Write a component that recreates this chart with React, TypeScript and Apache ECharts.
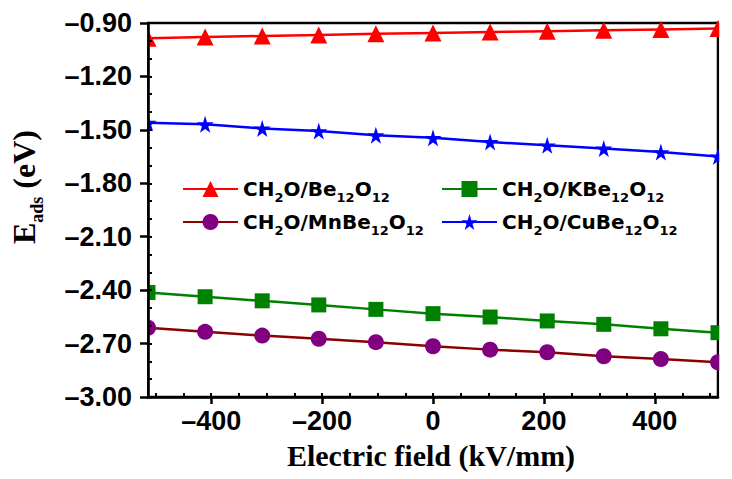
import React, { useEffect, useRef } from "react";
import * as echarts from "echarts";

const fieldX = [-514, -411, -308, -206, -103, 0, 103, 206, 308, 411, 514];
const be12o12 = [-0.985, -0.979, -0.973, -0.967, -0.961, -0.956, -0.951, -0.946, -0.941, -0.936, -0.931];
const cuBe12o12 = [-1.46, -1.469, -1.492, -1.507, -1.53, -1.545, -1.568, -1.587, -1.605, -1.625, -1.649];
const kBe12o12 = [-2.413, -2.437, -2.46, -2.483, -2.508, -2.532, -2.551, -2.573, -2.592, -2.617, -2.639];
const mnBe12o12 = [-2.611, -2.634, -2.655, -2.673, -2.692, -2.715, -2.734, -2.749, -2.771, -2.787, -2.805];

const xMajorTicks = [-400, -200, 0, 200, 400];
const xMinorTicks = [-500, -450, -400, -350, -300, -250, -200, -150, -100, -50, 0, 50, 100, 150, 200, 250, 300, 350, 400, 450, 500];

const seriesNames = ["CH2O/Be12O12", "CH2O/KBe12O12", "CH2O/MnBe12O12", "CH2O/CuBe12O12"];
const legendRich: Record<string, string> = {
  "CH2O/Be12O12": "{a|CH}{s|2}{a|O/Be}{s|12}{a|O}{s|12}",
  "CH2O/KBe12O12": "{a|CH}{s|2}{a|O/KBe}{s|12}{a|O}{s|12}",
  "CH2O/MnBe12O12": "{a|CH}{s|2}{a|O/MnBe}{s|12}{a|O}{s|12}",
  "CH2O/CuBe12O12": "{a|CH}{s|2}{a|O/CuBe}{s|12}{a|O}{s|12}",
};

const STAR = "path://M50,0 L61,35 L98,35 L68,57 L79,91 L50,70 L21,91 L32,57 L2,35 L39,35 Z";

const zip = (ys: number[]) => fieldX.map((x, i) => [x, ys[i]]);

const fmtMinus = (v: number, d: number) => {
  const r = Number(v.toFixed(d));
  if (r === 0) return d ? (0).toFixed(d) : "0";
  return (r < 0 ? "\u2013" : "") + Math.abs(r).toFixed(d);
};

export default function App() {
  const ref = useRef<HTMLDivElement>(null);
  useEffect(() => {
    document.body.style.margin = "0";
    const chart = echarts.init(ref.current!, undefined, { renderer: "svg" });
    const labelFont = { fontFamily: "Liberation Sans", fontWeight: "bold" as const, fontSize: 27, color: "#000" };
    const legendText = {
      rich: {
        a: { fontFamily: "DejaVu Sans", fontWeight: "bold", fontSize: 20, lineHeight: 22, color: "#000" },
        s: { fontFamily: "DejaVu Sans", fontWeight: "bold", fontSize: 13, lineHeight: 30, verticalAlign: "bottom", color: "#000" },
      },
    };
    const mkLegend = (name: string, left: number, top: number) => ({
      data: [name],
      left,
      top,
      orient: "horizontal",
      itemWidth: 55,
      itemHeight: 20,
      itemGap: 0,
      padding: 0,
      formatter: (n: string) => legendRich[n],
      textStyle: legendText,
    });
    const lineSeries = (name: string, ys: number[], symbol: string, size: number, itemColor: string, lineColor: string) => ({
      name,
      type: "line",
      data: zip(ys),
      symbol,
      symbolSize: size,
      showSymbol: true,
      clip: false,
      itemStyle: { color: itemColor },
      lineStyle: { color: lineColor, width: 2.5 },
      z: 2,
    });
    chart.setOption({
      animation: false,
      backgroundColor: "#fff",
      grid: {
        left: 148,
        right: 14,
        top: 23,
        bottom: 82,
        show: true,
        borderColor: "#000",
        borderWidth: 2.5,
        backgroundColor: "transparent",
        containLabel: false,
        outerBoundsMode: "none",
      },
      xAxis: [
        {
          type: "value",
          min: -514,
          max: 514,
          position: "bottom",
          z: 10,
          axisLine: { show: true, onZero: false, lineStyle: { color: "#000", width: 2.5 } },
          axisTick: { show: true, customValues: xMajorTicks, length: 7, inside: false, lineStyle: { color: "#000", width: 2.5 } },
          axisLabel: { customValues: xMajorTicks, margin: 10, formatter: (v: number) => fmtMinus(v, 0), ...labelFont },
          splitLine: { show: false },
        },
        {
          type: "value",
          min: -514,
          max: 514,
          position: "bottom",
          z: 10,
          axisLine: { show: false, onZero: false },
          axisTick: { show: true, customValues: xMinorTicks, length: 4, inside: true, lineStyle: { color: "#000", width: 2 } },
          axisLabel: { show: false },
          splitLine: { show: false },
        },
      ],
      yAxis: [
        {
          type: "value",
          min: -3,
          max: -0.9,
          interval: 0.3,
          position: "left",
          z: 10,
          axisLine: { show: true, onZero: false, lineStyle: { color: "#000", width: 2.5 } },
          axisTick: { show: true, length: 8, inside: false, lineStyle: { color: "#000", width: 2.5 } },
          axisLabel: { margin: 16, formatter: (v: number) => fmtMinus(v, 2), ...labelFont },
          splitLine: { show: false },
        },
        {
          type: "value",
          min: -3,
          max: -0.9,
          interval: 0.1,
          position: "left",
          z: 10,
          axisLine: { show: false, onZero: false },
          axisTick: { show: true, length: 4, inside: true, lineStyle: { color: "#000", width: 2 } },
          axisLabel: { show: false },
          splitLine: { show: false },
        },
      ],
      legend: [
        mkLegend(seriesNames[0], 182, 179),
        mkLegend(seriesNames[1], 441, 179),
        mkLegend(seriesNames[2], 182, 212),
        mkLegend(seriesNames[3], 441, 212),
      ],
      series: [
        lineSeries(seriesNames[0], be12o12, "triangle", 17, "#ff0000", "#ff0000"),
        lineSeries(seriesNames[1], kBe12o12, "rect", 15, "#008000", "#008000"),
        lineSeries(seriesNames[2], mnBe12o12, "circle", 16, "#800080", "#8b0000"),
        lineSeries(seriesNames[3], cuBe12o12, STAR, 17, "#0000ff", "#0000ff"),
      ],
      graphic: [
        { type: "rect", z: 5, shape: { x: 131, y: 10, width: 16, height: 392 }, style: { fill: "#fff" } },
        { type: "rect", z: 5, shape: { x: 719.3, y: 10, width: 14, height: 392 }, style: { fill: "#fff" } },
        {
          type: "text",
          z: 20,
          x: 431,
          y: 455,
          style: {
            text: "Electric field (kV/mm)",
            fontFamily: "Liberation Serif",
            fontWeight: "bold",
            fontSize: 30,
            fill: "#000",
            align: "center",
            verticalAlign: "middle",
          },
        },
        {
          type: "text",
          z: 20,
          x: 24,
          y: 187,
          rotation: Math.PI / 2,
          style: {
            text: "{e|E}{s|ads}{e| (eV)}",
            align: "center",
            verticalAlign: "middle",
            fill: "#000",
            rich: {
              e: { fontFamily: "Liberation Serif", fontWeight: "bold", fontSize: 32, lineHeight: 34, fill: "#000" },
              s: { fontFamily: "Liberation Serif", fontWeight: "bold", fontSize: 18, lineHeight: 44, verticalAlign: "bottom", fill: "#000" },
            },
          },
        },
      ],
    });
    return () => chart.dispose();
  }, []);
  return <div ref={ref} style={{ width: 732, height: 479 }} />;
}
